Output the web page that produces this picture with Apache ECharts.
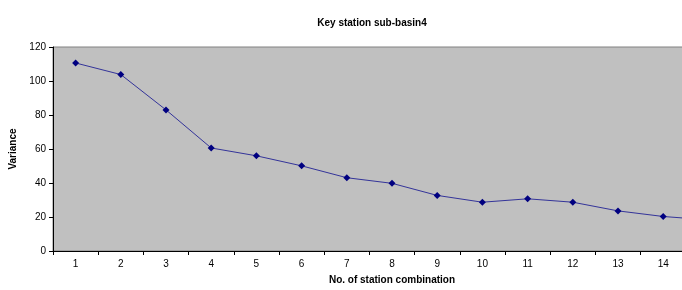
<!DOCTYPE html>
<html>
<head>
<meta charset="utf-8">
<script src="https://cdn.jsdelivr.net/npm/echarts@6/dist/echarts.min.js"></script>
<style>
  html, body { margin: 0; padding: 0; background: #fff; }
  #chart { width: 682px; height: 290px; }
</style>
</head>
<body>
<div id="chart"></div>
<script>
// combinations 1..15 (15 runs past the right edge of the picture)
var categories = ["1", "2", "3", "4", "5", "6", "7", "8", "9", "10", "11", "12", "13", "14", "15"];
var variance = [110.6, 103.8, 83.0, 60.6, 56.0, 50.1, 43.1, 39.8, 32.7, 28.7, 30.7, 28.7, 23.6, 20.3, 18.3];

var chart = echarts.init(document.getElementById("chart"));
chart.setOption({
  animation: false,
  title: {
    text: "Key station sub-basin4",
    left: 367,
    top: 13,
    textAlign: "center",
    textStyle: {
      fontFamily: "Liberation Sans",
      fontSize: 10,
      fontWeight: "bold",
      color: "#000"
    }
  },
  grid: {
    left: 53,
    width: 678,
    top: 47,
    bottom: 39,
    outerBoundsMode: "none",
    show: true,
    backgroundColor: "#c0c0c0",
    borderColor: "#808080",
    borderWidth: 1
  },
  xAxis: {
    type: "category",
    data: categories,
    boundaryGap: true,
    name: "No. of station combination",
    nameLocation: "middle",
    nameGap: 24,
    nameTextStyle: {
      fontFamily: "Liberation Sans",
      fontSize: 10,
      fontWeight: "bold",
      color: "#000"
    },
    axisLine: { lineStyle: { color: "#000", width: 1 } },
    axisTick: { show: true, interval: 0, length: 4, lineStyle: { color: "#000" } },
    axisLabel: {
      interval: 0,
      margin: 8,
      fontFamily: "Liberation Sans",
      fontSize: 10,
      color: "#000"
    },
    splitLine: { show: false }
  },
  yAxis: {
    type: "value",
    min: 0,
    max: 120,
    interval: 20,
    name: "Variance",
    nameLocation: "middle",
    nameGap: 34,
    nameRotate: 90,
    nameTextStyle: {
      fontFamily: "Liberation Sans",
      fontSize: 10,
      fontWeight: "bold",
      color: "#000"
    },
    axisLine: { show: true, lineStyle: { color: "#000", width: 1 } },
    axisTick: { show: true, length: 4, lineStyle: { color: "#000" } },
    axisLabel: {
      margin: 7,
      fontFamily: "Liberation Sans",
      fontSize: 10,
      color: "#000"
    },
    splitLine: { show: false }
  },
  series: [
    {
      name: "Variance",
      type: "line",
      data: variance,
      symbol: "diamond",
      symbolSize: 7,
      showAllSymbol: true,
      lineStyle: { color: "#333399", width: 1 },
      itemStyle: { color: "#000080" }
    }
  ]
});
</script>
</body>
</html>
